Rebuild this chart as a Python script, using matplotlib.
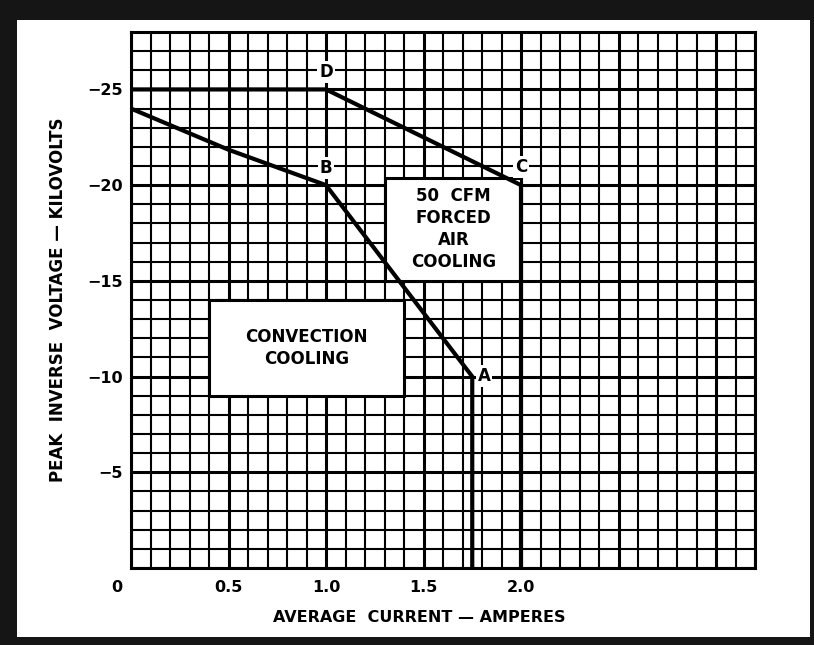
import numpy as np
import matplotlib
matplotlib.use("Agg")
import matplotlib.pyplot as plt
from matplotlib.patches import Rectangle

plt.rcParams['font.family'] = ['DejaVu Sans']
plt.rcParams['font.weight'] = 'bold'

# convection cooling limit: 0 -> B -> A -> down
conv_amps = [0.0, 0.5, 1.0, 1.75, 1.75]
conv_kv = [-24.0, -21.85, -20.0, -10.0, 0.0]

# 50 cfm forced air limit: D -> C -> down
forced_amps = [0.0, 1.0, 2.0, 2.0]
forced_kv = [-25.0, -25.0, -20.0, 0.0]

point_names = ['D', 'B', 'C', 'A']
point_amps = [1.0, 1.0, 2.0, 1.81]
point_kv = [-25.9, -20.9, -20.95, -10.05]

x_ticks = [0.5, 1.0, 1.5, 2.0]
x_labels = ['0.5', '1.0', '1.5', '2.0']
y_ticks = [-25, -20, -15, -10, -5]
y_labels = ['\u221225', '\u221220', '\u221215', '\u221210', '\u22125']

W, H = 814, 645
fig = plt.figure(figsize=(W / 100, H / 100), dpi=100)
fig.patch.set_facecolor('#151515')
fig.add_artist(Rectangle((17 / W, 8 / H), (810 - 17) / W, (625 - 8) / H,
                         transform=fig.transFigure, facecolor='white',
                         edgecolor='none', zorder=0))

ax = fig.add_axes([131 / W, 1 - 568 / H, (755 - 131) / W, (568 - 32) / H])
ax.set_xlim(0, 3.2)
ax.set_ylim(0, -28)

# graph paper
for x in np.arange(0, 3.21, 0.1):
    major = abs(x / 0.5 - round(x / 0.5)) < 1e-6
    ax.axvline(x, color='black', lw=2.2 if major else 1.5, zorder=1)
for y in range(0, -29, -1):
    ax.axhline(y, color='black', lw=2.2 if y % 5 == 0 else 1.5, zorder=1)

# region boxes
ax.add_patch(Rectangle((0.4, -14), 1.0, 5, facecolor='white', edgecolor='black',
                       lw=2.2, zorder=2))
ax.add_patch(Rectangle((1.3, -20.35), 0.7, 5.35, facecolor='white',
                       edgecolor='black', lw=2.2, zorder=2))
ax.text(0.9, -11.5, 'CONVECTION\nCOOLING', ha='center', va='center',
        fontsize=12, zorder=5, linespacing=1.3)
ax.text(1.655, -17.7, '50  CFM\nFORCED\nAIR\nCOOLING', ha='center', va='center',
        fontsize=12, zorder=5, linespacing=1.3)

ax.plot(conv_amps, conv_kv, color='black', lw=3.0, zorder=4,
        solid_joinstyle='miter')
ax.plot(forced_amps, forced_kv, color='black', lw=3.0, zorder=4,
        solid_joinstyle='miter')

for name, xa, yk in zip(point_names, point_amps, point_kv):
    ax.text(xa, yk, name, ha='center', va='center', fontsize=12, zorder=5,
            bbox=dict(facecolor='white', edgecolor='none', pad=1.5))

ax.set_xticks(x_ticks)
ax.set_xticklabels(x_labels)
ax.set_yticks(y_ticks)
ax.set_yticklabels(y_labels)
ax.tick_params(length=0, labelsize=11.5)
ax.tick_params(axis='x', pad=9)
ax.tick_params(axis='y', pad=6)
ax.text(-0.072, -0.023, '0', ha='center', va='top', fontsize=11.5,
        transform=ax.get_xaxis_transform(), zorder=5)
for s in ax.spines.values():
    s.set_linewidth(2.2)
    s.set_zorder(6)

fig.text(419 / W, 1 - 617 / H, 'AVERAGE  CURRENT \u2014 AMPERES',
         ha='center', va='center', fontsize=11.5)
fig.text(58 / W, 1 - 300 / H, 'PEAK  INVERSE  VOLTAGE \u2014 KILOVOLTS',
         ha='center', va='center', rotation=90, fontsize=12)

fig.savefig('out.png', dpi=100, facecolor=fig.get_facecolor())
